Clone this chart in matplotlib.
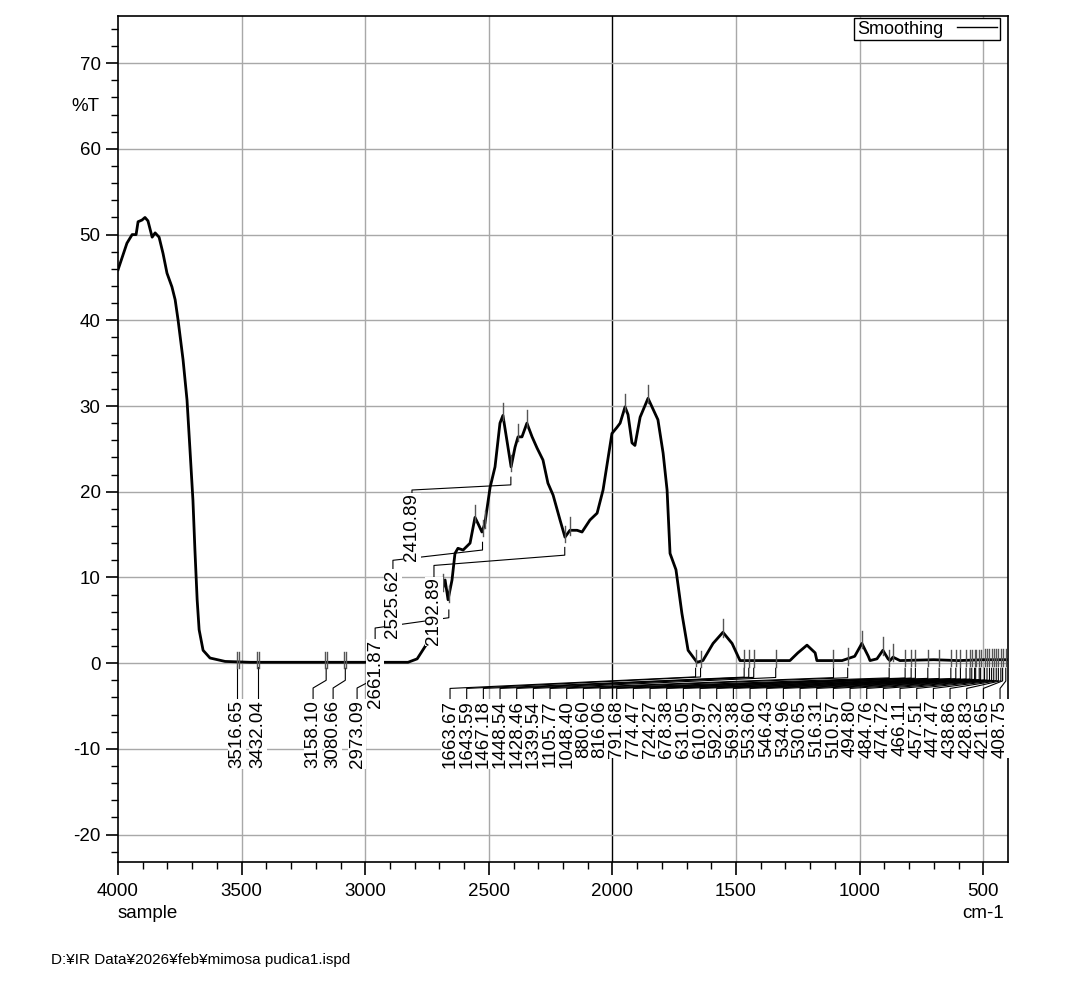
import matplotlib
matplotlib.use('Agg')
import matplotlib.pyplot as plt
import numpy as np

plt.rcParams['font.family'] = ['Liberation Sans', 'DejaVu Sans']
plt.rcParams['axes.unicode_minus'] = False

# spectrum (wavenumber cm-1, %T)
wn = [4000, 3964, 3943, 3927, 3919, 3903, 3891, 3879, 3862, 3850, 3834, 3818, 3802, 3782,
      3769, 3757, 3737, 3721, 3709, 3697, 3689, 3680, 3672, 3656, 3628, 3567, 3466, 3041,
      2827, 2790, 2750, 2685, 2677, 2665, 2649, 2637, 2625, 2604, 2576, 2556, 2544, 2528, 2516,
      2495, 2475, 2455, 2443, 2427, 2410, 2394, 2382, 2366, 2346, 2325, 2305, 2281, 2261,
      2240, 2212, 2192, 2172, 2143, 2123, 2091, 2062, 2038, 2002, 1982, 1969, 1949, 1937,
      1921, 1909, 1888, 1856, 1816, 1795, 1779, 1767, 1743, 1719, 1694, 1658, 1634, 1593,
      1553, 1516, 1484, 1282, 1250, 1213, 1180, 1173, 1071, 1020, 991, 965, 958, 930, 906,
      885, 877, 865, 837, 700, 600, 500, 400]
tr = [45.9, 49.0, 50.0, 50.0, 51.5, 51.7, 52.0, 51.6, 49.7, 50.2, 49.7, 47.8, 45.5, 43.9,
      42.4, 40.0, 35.4, 30.7, 24.9, 19.0, 13.2, 7.4, 3.9, 1.5, 0.6, 0.2, 0.1, 0.1,
      0.1, 0.5, 2.3, 8.9, 9.7, 7.4, 9.7, 12.8, 13.4, 13.2, 14.0, 17.0, 16.3, 15.3, 16.3,
      20.5, 22.9, 28.0, 28.9, 26.0, 22.9, 25.2, 26.4, 26.4, 28.0, 26.4, 25.1, 23.7, 21.0,
      19.6, 16.7, 14.7, 15.5, 15.5, 15.3, 16.7, 17.5, 20.2, 26.8, 27.5, 28.0, 29.9, 29.0,
      25.7, 25.4, 28.7, 30.9, 28.4, 24.5, 20.2, 12.8, 10.9, 5.8, 1.5, 0.1, 0.3, 2.3,
      3.6, 2.3, 0.3, 0.3, 1.2, 2.1, 1.2, 0.3, 0.3, 0.8, 2.3, 0.8, 0.3, 0.5, 1.5,
      0.5, 0.3, 0.7, 0.3, 0.4, 0.3, 0.4, 0.4]

# labelled peaks
left_peaks = [3516.65, 3432.04, 3158.10, 3080.66, 2973.09]
left_text_x = [3519, 3434, 3211, 3130, 3033]
mid_peaks = [2661.87, 2525.62, 2410.89, 2192.89]
mid_text_x = [2960, 2888, 2811, 2722]
mid_text_top = [2.7, 10.9, 19.8, 10.0]
mid_knee = [4.1, 12.0, 20.2, 11.4]
mid_elbow = [5.3, 13.2, 20.8, 12.6]
mid_tip = [6.2, 14.1, 21.7, 13.5]
low_peaks = [1663.67, 1643.59, 1467.18, 1448.54, 1428.46, 1339.54, 1105.77, 1048.40,
             880.60, 816.06, 791.68, 774.47, 724.27, 678.38, 631.05, 610.97, 592.32,
             569.38, 553.60, 546.43, 534.96, 530.65, 516.31, 510.57, 494.80, 484.76,
             474.72, 466.11, 457.51, 447.47, 438.86, 428.83, 421.65, 408.75]
# unlabelled maxima ticks
max_peaks = [2685, 2556, 2516, 2443, 2382, 2346, 2172, 1949, 1856, 1553, 991, 906, 865]

fig = plt.figure(figsize=(10.8, 9.9), dpi=100)
ax = fig.add_axes([0.1093, 0.1293, 0.824, 0.8545])
ax.set_xlim(4000, 400)
ax.set_ylim(-23.2, 75.5)

for x in range(3500, 400, -500):
    ax.axvline(x, color='black' if x == 2000 else '#a8a8a8', lw=1.0, zorder=0)
for y in range(-20, 80, 10):
    ax.axhline(y, color='#a8a8a8', lw=1.0, zorder=0)

ax.plot(wn, tr, color='black', lw=2.0, label='Smoothing', zorder=3)

def curve_at(x):
    return np.interp(x, wn[::-1], tr[::-1])

lk = dict(color='black', lw=0.8, zorder=2)
bb = dict(facecolor='white', edgecolor='none', pad=0.5)
fs = 13.5

for p in max_peaks:
    c = curve_at(p)
    ax.plot([p, p], [c - 0.5, c + 1.5], color='#555555', lw=1.0, zorder=4)

for i, p in enumerate(left_peaks):
    c = curve_at(p)
    tx = left_text_x[i]
    ax.plot([p - 4, p - 4], [c - 0.7, c + 1.2], color='#555555', lw=1.0, zorder=4)
    ax.plot([p + 4, p + 4], [c - 0.7, c + 1.2], color='#555555', lw=1.0, zorder=4)
    if i < 2:
        ax.plot([tx, tx], [-4.1, c - 0.5], **lk)
    else:
        ax.plot([tx, tx, p, p], [-4.3, -2.9, -2.0, -0.6], **lk)
    ax.text(tx, -4.3, '%.2f' % p, rotation=90, ha='center', va='top', fontsize=fs,
            bbox=bb, zorder=5)

for i, p in enumerate(mid_peaks):
    c = curve_at(p)
    tx = mid_text_x[i]
    ax.plot([p, p], [c - 0.7, c + 1.2], color='#555555', lw=1.0, zorder=4)
    ax.plot([tx, tx, p, p], [mid_text_top[i], mid_knee[i], mid_elbow[i], mid_tip[i]], **lk)
    ax.text(tx, mid_text_top[i], '%.2f' % p, rotation=90, ha='center', va='top',
            fontsize=fs, bbox=bb, zorder=5)

low_text_x = np.linspace(2657, 432, len(low_peaks))
for i, p in enumerate(low_peaks):
    c = curve_at(p)
    tx = low_text_x[i]
    ax.plot([p, p], [c - 0.7, c + 1.2], color='#555555', lw=1.0, zorder=4)
    ax.plot([tx, tx, p, p], [-4.3, -2.95, -1.6 - 0.5 * i / len(low_peaks), -0.6], **lk)
    ax.text(tx, -4.3, '%.2f' % p, rotation=90, ha='center', va='top', fontsize=fs,
            bbox=bb, zorder=5)

ax.set_yticks(range(-20, 80, 10))
ax.set_yticks(np.arange(-22, 76, 2), minor=True)
ax.set_xticks(range(4000, 400, -500))
ax.set_xticks(range(4000, 400, -100), minor=True)
ax.tick_params(axis='both', which='major', length=9, width=1.2, labelsize=13.5, direction='out')
ax.tick_params(axis='both', which='minor', length=5, width=1.0, direction='out')
ax.tick_params(axis='x', pad=6)
for s in ax.spines.values():
    s.set_linewidth(1.2)

leg = ax.legend(loc='upper right', fontsize=13, frameon=True, fancybox=False,
                borderaxespad=0.1, handlelength=2.2, borderpad=0.15,
                markerfirst=False, framealpha=1, bbox_to_anchor=(0.993, 1.0))
leg.get_frame().set_edgecolor('black')
leg.get_frame().set_linewidth(1.0)
for h in leg.get_lines():
    h.set_linewidth(1.0)

fig.text(0.066, 0.888, '%T', fontsize=13.5)
fig.text(0.109, 0.073, 'sample', fontsize=13.5)
fig.text(0.930, 0.073, 'cm-1', fontsize=13.5, ha='right')
fig.text(0.047, 0.026, 'D:\u00a5IR Data\u00a52026\u00a5feb\u00a5mimosa pudica1.ispd', fontsize=11)

fig.savefig('out.png', dpi=100)
